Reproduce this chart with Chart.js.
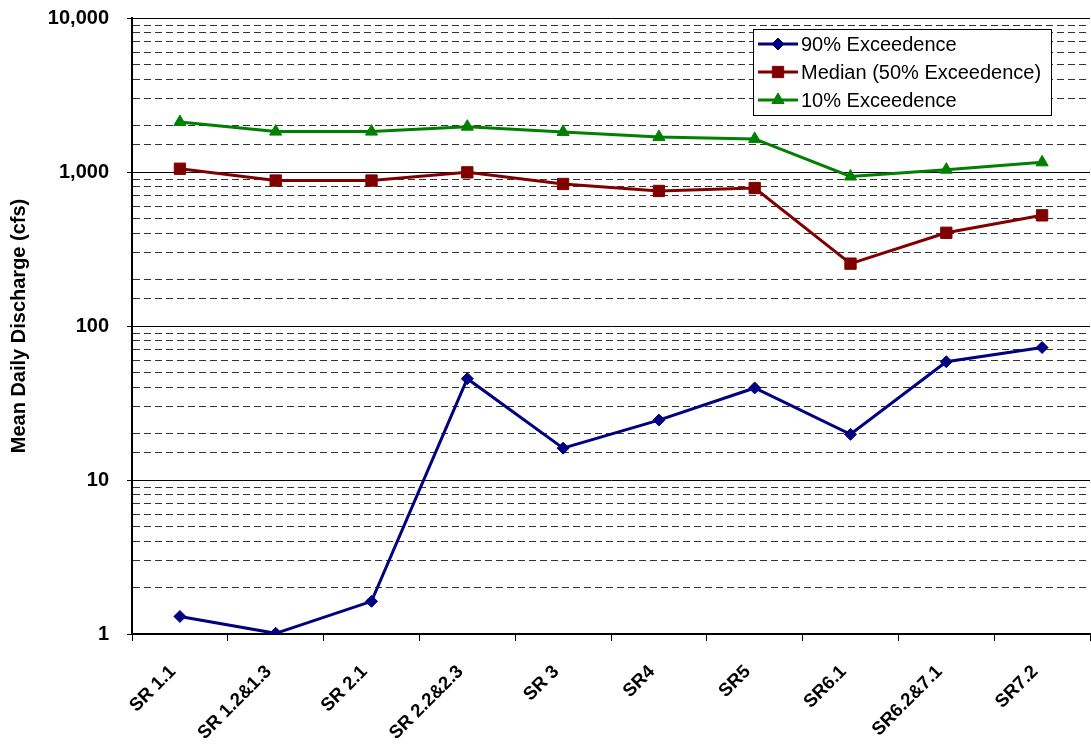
<!DOCTYPE html>
<html><head><meta charset="utf-8">
<script src="https://cdn.jsdelivr.net/npm/chart.js@4/dist/chart.umd.min.js"></script>
<style>html,body{margin:0;padding:0;overflow:hidden;background:#fff;}canvas{display:block;}</style>
</head><body>
<canvas id="c" width="1099" height="745"></canvas>
<script>
const categories = ['SR 1.1','SR 1.2&1.3','SR 2.1','SR 2.2&2.3','SR 3','SR4','SR5','SR6.1','SR6.2&7.1','SR7.2'];
const exceed90 = [1.3, 1.01, 1.63, 45.5, 16.1, 24.5, 39.6, 19.8, 58.6, 72.5];
const median50 = [1050, 880, 880, 995, 836, 753, 787, 254, 403, 523];
const exceed10 = [2110, 1830, 1830, 1970, 1820, 1690, 1640, 935, 1035, 1155];
const yTickLabels = {1:'1', 10:'10', 100:'100', 1000:'1,000', 10000:'10,000'};
const seriesNames = ['90% Exceedence','Median (50% Exceedence)','10% Exceedence'];
const yTitle = 'Mean Daily Discharge (cfs)';

const FONT = "'Liberation Sans', Arial, sans-serif";
function isMajor(v){ const l = Math.log10(v); return Math.abs(l - Math.round(l)) < 1e-9; }

function drawMarker(ctx, style, r, x, y, color){
  ctx.save();
  ctx.fillStyle = color; ctx.strokeStyle = color; ctx.lineWidth = 1;
  ctx.beginPath();
  if (style === 'rectRot'){
    ctx.moveTo(x, y - r); ctx.lineTo(x + r, y); ctx.lineTo(x, y + r); ctx.lineTo(x - r, y);
  } else if (style === 'rect'){
    const s = Math.SQRT1_2 * r; ctx.rect(x - s, y - s, 2*s, 2*s);
  } else if (style === 'triangle'){
    ctx.moveTo(x, y - r);
    ctx.lineTo(x + r*Math.sin(2*Math.PI/3), y - r*Math.cos(2*Math.PI/3));
    ctx.lineTo(x - r*Math.sin(2*Math.PI/3), y - r*Math.cos(2*Math.PI/3));
  }
  ctx.closePath(); ctx.fill(); ctx.stroke();
  ctx.restore();
}

const legendBox = {
  id: 'legendBox',
  afterDatasetsDraw(chart){
    const ctx = chart.ctx;
    const x0 = 753.5, y0 = 29.5, w = 298, h = 86;
    ctx.save();
    ctx.fillStyle = '#fff'; ctx.fillRect(x0, y0, w, h);
    ctx.strokeStyle = '#000'; ctx.lineWidth = 1; ctx.strokeRect(x0, y0, w, h);
    chart.data.datasets.forEach((ds, i) => {
      const y = 44 + i * 28;
      ctx.strokeStyle = ds.borderColor; ctx.lineWidth = 3;
      ctx.beginPath(); ctx.moveTo(758, y); ctx.lineTo(798, y); ctx.stroke();
      drawMarker(ctx, ds.pointStyle, ds.pointRadius, 778, y, ds.borderColor);
      ctx.fillStyle = '#000';
      ctx.font = '20px ' + FONT;
      ctx.textBaseline = 'middle'; ctx.textAlign = 'left';
      ctx.fillText(ds.label, 801, y + 1);
    });
    ctx.restore();
  }
};

new Chart(document.getElementById('c'), {
  type: 'line',
  data: {
    labels: categories,
    datasets: [
      { label: seriesNames[0], data: exceed90, borderColor: '#000080', backgroundColor: '#000080',
        borderWidth: 3, pointStyle: 'rectRot', pointRadius: 6, pointBorderWidth: 1, tension: 0 },
      { label: seriesNames[1], data: median50, borderColor: '#800000', backgroundColor: '#800000',
        borderWidth: 3, pointStyle: 'rect', pointRadius: 8, pointBorderWidth: 1, tension: 0 },
      { label: seriesNames[2], data: exceed10, borderColor: '#008000', backgroundColor: '#008000',
        borderWidth: 3, pointStyle: 'triangle', pointRadius: 7, pointBorderWidth: 1, tension: 0 }
    ]
  },
  options: {
    responsive: false,
    animation: false,
    devicePixelRatio: 1,
    layout: { padding: { top: 18, left: 0, right: 0, bottom: 0 } },
    plugins: { legend: { display: false }, tooltip: { enabled: false } },
    scales: {
      x: {
        type: 'category',
        offset: true,
        grid: { drawOnChartArea: false, drawTicks: true, tickLength: 7, offset: true, color: '#000', tickColor: '#000', tickWidth: 1 },
        border: { display: true, color: '#000', width: 2 },
        ticks: { minRotation: 45, maxRotation: 45, autoSkip: false, padding: 20, labelOffset: -7, color: '#000',
                 font: { family: FONT, size: 18.5, weight: 'bold' } },
        afterFit: s => { s.height = 111; s.paddingLeft = 0; s.paddingRight = 0; }
      },
      y: {
        type: 'logarithmic',
        min: 1, max: 10000,
        grid: {
          color: ctx => (ctx.tick && !isMajor(ctx.tick.value)) ? '#333' : '#000',
          lineWidth: 1,
          drawTicks: true,
          tickLength: 5,
          tickColor: ctx => (ctx.tick && isMajor(ctx.tick.value)) ? '#000' : 'rgba(0,0,0,0)'
        },
        border: { display: true, color: '#000', width: 2,
                  dash: ctx => (ctx.tick && !isMajor(ctx.tick.value)) ? [7, 4] : [] },
        ticks: {
          autoSkip: false, padding: 18, color: '#000',
          font: { family: FONT, size: 20, weight: 'bold' },
          callback: v => (yTickLabels[v] !== undefined ? yTickLabels[v] : '')
        },
        title: { display: true, text: yTitle, color: '#000', padding: { top: 7, bottom: 0 },
                 font: { family: FONT, size: 20, weight: 'bold' } },
        afterFit: s => { s.width = 132; s.paddingTop = 0; s.paddingBottom = 0; }
      }
    }
  },
  plugins: [legendBox]
});
</script>
</body></html>
